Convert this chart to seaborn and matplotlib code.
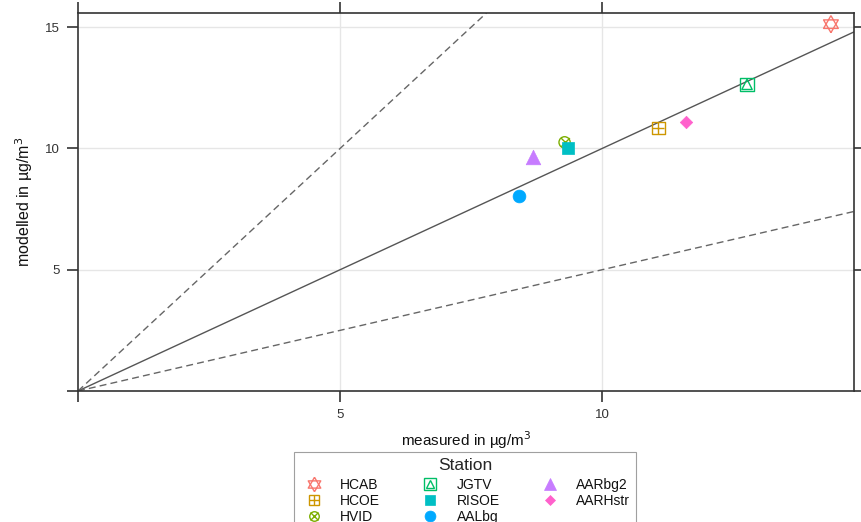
import pandas as pd
import matplotlib
matplotlib.use('Agg')
import matplotlib.pyplot as plt
from matplotlib.lines import Line2D
import seaborn as sns

# 数据
stations = ['HCAB', 'HCOE', 'HVID', 'JGTV', 'RISOE', 'AALbg', 'AARbg2', 'AARHstr']
measured = [14.36, 11.07, 9.28, 12.76, 9.35, 8.42, 8.67, 11.60]
modelled = [15.12, 10.83, 10.25, 12.64, 10.00, 8.02, 9.63, 11.07]
colors = ['#F8766D', '#CD9600', '#7CAE00', '#00BE67', '#00BFC4', '#00A9FF', '#C77CFF', '#FF61CC']

x_ticks = [0, 5, 10]
y_ticks = [0, 5, 10, 15]

df = pd.DataFrame({'station': stations, 'measured': measured, 'modelled': modelled})
palette = dict(zip(stations, colors))

# 六角星用的两个三角形 (以重心为中心)
tri_up = [(0, 1), (-0.866, -0.5), (0.866, -0.5), (0, 1)]
tri_down = [(0, -1), (-0.866, 0.5), (0.866, 0.5), (0, -1)]

# 每个站点的符号 (marker, 是否填充, 大小)
marker_parts = {
    'HCAB': [(tri_up, False, 150), (tri_down, False, 150)],
    'HCOE': [('s', False, 80), ('+', True, 80)],
    'HVID': [('o', False, 65), ('x', True, 40)],
    'JGTV': [('s', False, 90), ('^', False, 55)],
    'RISOE': [('s', True, 85)],
    'AALbg': [('o', True, 85)],
    'AARbg2': [('^', True, 110)],
    'AARHstr': [('D', True, 40)],
}

sns.set_style('white')
plt.rcParams['font.family'] = ['Liberation Sans', 'DejaVu Sans']

fig = plt.figure(figsize=(8.61, 5.22), dpi=100)
ax = fig.add_axes([78 / 861, 1 - 391 / 522, (854 - 78) / 861, (391 - 13) / 522])

# 1:1, 2:1, 1:2 参考线
ax.axline((0, 0), slope=1, color='#555555', lw=1.0, zorder=1)
ax.axline((0, 0), slope=2, color='#666666', lw=1.0, ls=(0, (5, 3)), zorder=1)
ax.axline((0, 0), slope=0.5, color='#666666', lw=1.0, ls=(0, (5, 3)), zorder=1)

for st, parts in marker_parts.items():
    sub = df[df['station'] == st]
    c = palette[st]
    for m, filled, size in parts:
        if isinstance(m, str) and m in ('+', 'x'):
            sns.scatterplot(data=sub, x='measured', y='modelled', marker=m, s=size,
                            color=c, linewidth=1.0, ax=ax, zorder=3, legend=False)
        elif filled:
            sns.scatterplot(data=sub, x='measured', y='modelled', marker=m, s=size,
                            color=c, edgecolor=c, linewidth=0.5, ax=ax, zorder=3, legend=False)
        else:
            sns.scatterplot(data=sub, x='measured', y='modelled', marker=m, s=size,
                            facecolor='none', edgecolor=c, linewidth=1.0, ax=ax, zorder=3,
                            legend=False)

ax.set_xlim(0, 14.8)
ax.set_ylim(0, 15.58)
ax.set_xticks(x_ticks)
ax.set_yticks(y_ticks)
ax.set_xticklabels(['' if t == 0 else str(t) for t in x_ticks])
ax.set_yticklabels(['' if t == 0 else str(t) for t in y_ticks])
ax.tick_params(direction='out', length=8, width=1.2, color='#333333', labelsize=9.5,
               labelcolor='#333333', top=True, right=True, bottom=True, left=True,
               pad=5)
ax.tick_params(axis='y', pad=5)
for v in [5, 10]:
    ax.axvline(v, color='#e6e6e6', lw=1.0, zorder=0)
for v in [5, 10, 15]:
    ax.axhline(v, color='#e6e6e6', lw=1.0, zorder=0)
for sp in ax.spines.values():
    sp.set_visible(True)
    sp.set_color('#333333')
    sp.set_linewidth(1.2)

ax.set_xlabel('measured in µg/m$^3$', fontsize=11, labelpad=6, color='#111111')
ax.set_ylabel('modelled in µg/m$^3$', fontsize=11.5, labelpad=7, color='#111111')

# 图例
handles = []
for st, parts in marker_parts.items():
    c = palette[st]
    hs = []
    for m, filled, size in parts:
        ms = 0.85 * size ** 0.5
        if isinstance(m, str) and m in ('+', 'x'):
            hs.append(Line2D([], [], ls='', marker=m, color=c, markersize=ms, mew=1.0))
        elif filled:
            hs.append(Line2D([], [], ls='', marker=m, color=c, markersize=ms, mew=0.5))
        else:
            hs.append(Line2D([], [], ls='', marker=m, markerfacecolor='none',
                             markeredgecolor=c, markersize=ms, mew=1.0))
    handles.append(tuple(hs))

leg = fig.legend(handles, stations, loc='upper center', bbox_to_anchor=(465 / 861, 1 - 452 / 522),
                 borderaxespad=0, ncol=3, title='Station', fontsize=10, title_fontsize=12.5,
                 frameon=True, fancybox=False, edgecolor='#888888', handletextpad=0.9,
                 columnspacing=2.6, labelspacing=0.15, borderpad=0.4)
leg.get_frame().set_linewidth(0.8)
leg._legend_box.sep = 4
for t in leg.get_texts():
    t.set_color('#111111')

fig.savefig('out.png', dpi=100)
